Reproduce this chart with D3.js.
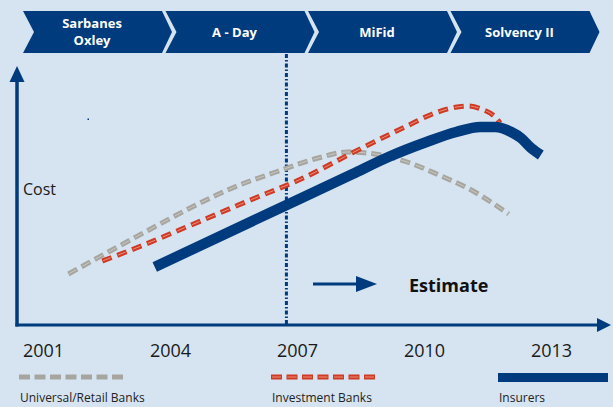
<!DOCTYPE html>
<html>
<head>
<meta charset="utf-8">
<script src="https://cdn.jsdelivr.net/npm/d3@7"></script>
<style>
  body { margin: 0; background: #d5e4f0; }
  svg { display: block; font-family: 'Open Sans', 'DejaVu Sans', sans-serif; }
</style>
</head>
<body>
<svg id="chart" width="613" height="407"></svg>
<script>
// phases shown in the banner
const phases = ['Sarbanes|Oxley', 'A - Day', 'MiFid', 'Solvency II'];
const yearTicks = [2001, 2004, 2007, 2010, 2013];
const aDayYear = 2006.75;

// cost curves (arbitrary cost units)
const retailYears = [2001.6, 2002.5, 2003.5, 2004.5, 2005.5, 2006.5, 2007.5, 2008.2, 2009.0, 2009.6, 2010.3, 2011.2, 2012.0];
const retailCost = [20.4, 28.8, 38, 47, 55, 61.2, 66.8, 69.2, 68, 65.2, 60.4, 53.2, 44.4];
const investYears = [2002.4, 2003.2, 2004.5, 2005.9, 2007.2, 2008.3, 2009.6, 2010.2, 2010.65, 2011.05, 2011.35, 2011.68, 2011.8];
const investCost = [25.6, 30.8, 40, 50, 59.2, 68.8, 79.6, 84.4, 86.8, 87.6, 86.4, 83.2, 80.8];
const insurerYears = [2003.64, 2006.4, 2008.3, 2009.16, 2010.06, 2010.76, 2011.33, 2011.68, 2012.06, 2012.29, 2012.53, 2012.76];
const insurerCost = [23.2, 45.2, 60.3, 67.2, 73.2, 77.2, 79.2, 79.2, 77.2, 74.8, 70.8, 68];

const seriesNames = ['Universal/Retail Banks', 'Investment Banks', 'Insurers'];

const navy = '#003b7e';
const red = '#cf3a24';
const grey = '#a7a59f';

const svg = d3.select('#chart');

// scales
const x = d3.scaleLinear().domain([2001, 2013]).range([43, 551]);
const y = d3.scaleLinear().domain([0, 100]).range([325, 75]);

// banner chevrons
const band = d3.scaleBand().domain(phases).range([23, 593]);
const bw = band.bandwidth();
const chev = svg.append('g').attr('class', 'banner');
chev.selectAll('path')
  .data(phases)
  .enter()
  .append('path')
  .attr('d', (d) => {
    const x0 = band(d);
    return `M${x0},11 L${x0 + bw - 3.5},11 L${x0 + bw + 6.5},32 L${x0 + bw - 3.5},53 L${x0},53 L${x0 + 11},32 Z`;
  })
  .attr('fill', navy);

chev.selectAll('text')
  .data(phases)
  .enter()
  .append('text')
  .attr('text-anchor', 'middle')
  .attr('fill', '#fff')
  .style('font-weight', 'bold')
  .style('font-size', '13px')
  .each(function (d) {
    const lines = d.split('|');
    const sel = d3.select(this);
    const y0 = lines.length > 1 ? 28 : 37;
    lines.forEach((l, i) => {
      sel.append('tspan').attr('x', band(d) + 69).attr('y', y0 + i * 17).text(l);
    });
  });

// A-Day marker
svg.append('line')
  .attr('x1', x(aDayYear)).attr('x2', x(aDayYear))
  .attr('y1', 54).attr('y2', y(0))
  .attr('stroke', navy)
  .attr('stroke-width', 3)
  .attr('stroke-dasharray', '4,2,1.5,2');

// axes with arrow heads
const axes = svg.append('g').attr('class', 'axes');
axes.append('line')
  .attr('x1', 17).attr('x2', 17).attr('y1', 80).attr('y2', y(0) + 1.5)
  .attr('stroke', navy).attr('stroke-width', 3.5);
axes.append('path')
  .attr('d', 'M17,66 L24.5,82 L9.5,82 Z')
  .attr('fill', navy);
axes.append('line')
  .attr('x1', 15.5).attr('x2', 598).attr('y1', y(0)).attr('y2', y(0))
  .attr('stroke', navy).attr('stroke-width', 3);
axes.append('path')
  .attr('d', `M611,${y(0)} L597,${y(0) - 7} L597,${y(0) + 7} Z`)
  .attr('fill', navy);

const xAxis = svg.append('g')
  .attr('transform', `translate(0,${y(0) + 16})`)
  .call(d3.axisBottom(x).tickValues(yearTicks).tickFormat(d3.format('d')).tickSize(0));
xAxis.select('.domain').remove();
xAxis.selectAll('text')
  .attr('fill', '#1a1a1a')
  .style('font-size', '18px')
  .style('font-family', "'Open Sans', sans-serif");

svg.append('text')
  .attr('x', 23).attr('y', 195)
  .attr('fill', '#1a1a1a')
  .style('font-size', '16px')
  .text('Cost');

// stray dot in the original
svg.append('rect')
  .attr('x', 87.5).attr('y', 118.5).attr('width', 1.5).attr('height', 1.5)
  .attr('fill', navy);

// curves
const line = d3.line()
  .x(d => x(d[0]))
  .y(d => y(d[1]))
  .curve(d3.curveMonotoneX);

const retail = retailYears.map((v, i) => [v, retailCost[i]]);
const invest = investYears.map((v, i) => [v, investCost[i]]);
const insurer = insurerYears.map((v, i) => [v, insurerCost[i]]);

const curves = svg.append('g').attr('class', 'curves');
curves.append('path')
  .attr('d', line(retail))
  .attr('fill', 'none')
  .attr('stroke', grey)
  .attr('stroke-width', 5)
  .attr('stroke-dasharray', '10,5');
curves.append('path')
  .attr('d', line(retail))
  .attr('fill', 'none')
  .attr('stroke', '#c9c7c2')
  .attr('stroke-width', 1)
  .attr('stroke-dasharray', '8,7')
  .attr('stroke-dashoffset', -1);

curves.append('path')
  .attr('d', line(invest))
  .attr('fill', 'none')
  .attr('stroke', red)
  .attr('stroke-width', 5)
  .attr('stroke-dasharray', '10,6');
curves.append('path')
  .attr('d', line(invest))
  .attr('fill', 'none')
  .attr('stroke', '#ec8f80')
  .attr('stroke-width', 1)
  .attr('stroke-dasharray', '8,8')
  .attr('stroke-dashoffset', -1);

curves.append('path')
  .attr('d', line(insurer))
  .attr('fill', 'none')
  .attr('stroke', navy)
  .attr('stroke-width', 10.5)
  .attr('stroke-linejoin', 'round');

// estimate arrow
const est = svg.append('g');
est.append('line')
  .attr('x1', 313).attr('x2', 362).attr('y1', 284).attr('y2', 284)
  .attr('stroke', navy).attr('stroke-width', 3);
est.append('path')
  .attr('d', 'M377,284 L356,276 L356,292 Z')
  .attr('fill', navy);
est.append('text')
  .attr('x', 409).attr('y', 292)
  .attr('fill', '#111')
  .style('font-size', '18px')
  .style('font-weight', 'bold')
  .text('Estimate');

// legend
const legendX = d3.scaleOrdinal().domain(seriesNames).range([19, 271, 498]);
const legend = svg.append('g').attr('class', 'legend');
legend.append('line')
  .attr('x1', legendX(seriesNames[0])).attr('x2', legendX(seriesNames[0]) + 108)
  .attr('y1', 377).attr('y2', 377)
  .attr('stroke', grey).attr('stroke-width', 5).attr('stroke-dasharray', '11,4.5');
legend.append('line')
  .attr('x1', legendX(seriesNames[1])).attr('x2', legendX(seriesNames[1]) + 108)
  .attr('y1', 377).attr('y2', 377)
  .attr('stroke', red).attr('stroke-width', 5).attr('stroke-dasharray', '11,4.5');
legend.append('line')
  .attr('x1', legendX(seriesNames[1]) + 1).attr('x2', legendX(seriesNames[1]) + 108)
  .attr('y1', 377).attr('y2', 377)
  .attr('stroke', '#ec8f80').attr('stroke-width', 1).attr('stroke-dasharray', '9,6.5');
legend.append('line')
  .attr('x1', legendX(seriesNames[2])).attr('x2', legendX(seriesNames[2]) + 110)
  .attr('y1', 377.5).attr('y2', 377.5)
  .attr('stroke', navy).attr('stroke-width', 9);

legend.selectAll('text')
  .data(seriesNames)
  .enter()
  .append('text')
  .attr('x', d => legendX(d) + 1)
  .attr('y', 402)
  .attr('fill', '#222')
  .style('font-size', '12px')
  .text(d => d);
</script>
</body>
</html>
